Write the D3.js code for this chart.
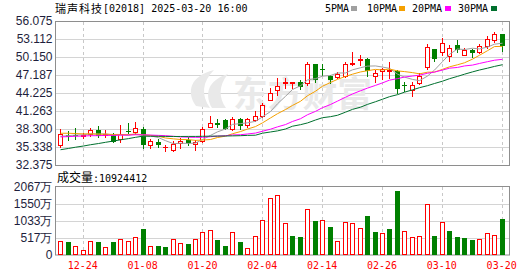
<!DOCTYPE html>
<html><head><meta charset="utf-8">
<script src="https://cdn.jsdelivr.net/npm/d3@7"></script>
<style>body{margin:0;background:#fff}svg{display:block}</style>
</head><body>
<script>
const dates = ["12-19","12-20","12-23","12-24","12-27","12-30","12-31","01-02","01-03","01-06","01-07","01-08","01-09","01-10","01-13","01-14","01-15","01-16","01-17","01-20","01-21","01-22","01-23","01-24","01-27","01-28","02-03","02-04","02-05","02-06","02-07","02-10","02-11","02-12","02-13","02-14","02-17","02-18","02-19","02-20","02-21","02-24","02-25","02-26","02-27","02-28","03-03","03-04","03-05","03-06","03-07","03-10","03-11","03-12","03-13","03-14","03-17","03-18","03-19","03-20"];
const open  = [35.7,37.3,37.3,37.2,37.4,38.1,37.3,37.3,36.6,38.0,37.8,38.3,35.6,36.2,35.3,34.9,36.0,36.5,35.9,36.3,38.7,39.35,39.8,38.3,39.95,39.0,39.7,40.4,43.1,44.8,45.8,45.9,46.1,45.95,49.05,48.2,47.1,46.85,47.1,48.95,49.6,49.8,46.95,47.9,47.9,47.8,45.6,44.8,45.9,48.5,51.5,51.05,50.25,52.2,50.5,51.35,51.05,51.9,53.0,53.9];
const high  = [38.3,38.0,38.5,37.7,38.5,38.8,38.1,37.6,38.9,39.3,39.4,38.7,36.7,36.6,35.7,36.3,36.9,37.0,36.5,38.6,40.5,39.95,39.95,40.3,40.1,40.1,41.2,42.5,45.0,46.7,46.7,46.1,46.4,49.3,49.05,49.0,47.25,47.6,49.3,50.9,50.4,50.0,47.95,48.3,49.3,48.05,46.1,46.1,47.5,52.3,51.5,53.3,52.2,53.0,51.7,51.4,52.3,53.55,54.25,53.9];
const low   = [35.3,36.5,36.6,36.8,37.2,37.0,37.0,36.2,36.1,37.6,37.5,35.1,35.1,35.4,34.6,34.7,35.1,35.7,34.8,36.1,38.6,38.6,38.3,38.2,38.3,38.7,39.55,40.3,43.0,43.9,45.05,45.05,44.9,45.6,46.1,47.2,45.9,46.7,46.85,48.9,48.9,46.95,46.1,46.5,46.7,44.2,44.6,43.8,45.7,48.2,49.5,50.4,49.5,51.05,50.4,50.1,50.8,51.6,52.7,51.2];
const close = [37.5,37.2,37.25,37.35,38.2,37.3,37.4,36.3,37.4,37.9,38.4,35.9,36.3,35.9,35.4,35.9,36.3,36.1,36.2,38.35,39.3,39.2,38.5,39.95,39.0,39.95,40.4,42.2,44.3,45.4,46.1,46.0,45.3,49.05,46.5,48.1,46.6,47.35,49.05,49.1,49.8,47.95,47.5,48.1,48.05,45.05,45.5,45.6,47.1,51.8,50.0,52.45,51.6,51.5,51.35,51.05,51.9,53.1,53.9,52.15];
const volume = [424,383,272,141,414,383,242,383,474,414,545,787,272,272,242,474,353,333,474,686,747,454,272,686,383,202,575,1059,1745,1836,959,575,545,1392,1029,1079,847,424,989,959,817,1180,696,656,787,1937,716,545,575,1564,575,989,726,545,515,454,484,656,595,1092];
const ma5  = [37.1,37.2,37.3,37.35,37.5,37.46,37.5,37.31,37.32,37.26,37.48,37.18,37.18,36.88,36.38,35.88,35.96,35.92,35.98,36.57,37.25,37.83,38.31,39.06,39.19,39.32,39.56,40.3,41.17,42.45,43.68,44.8,45.42,46.37,46.59,46.99,47.11,47.52,47.52,48.04,48.38,48.65,48.68,48.49,48.28,47.33,46.84,46.46,46.26,47.01,48.0,49.39,50.59,51.47,51.38,51.59,51.48,51.78,52.26,52.42];
const ma10 = [37.6,37.6,37.55,37.5,37.5,37.45,37.45,37.4,37.4,37.38,37.47,37.34,37.25,37.1,36.82,36.68,36.57,36.55,36.43,36.48,36.57,36.9,37.12,37.52,37.88,38.29,38.7,39.31,40.12,40.82,41.5,42.18,42.86,43.77,44.52,45.34,45.96,46.47,46.95,47.32,47.69,47.89,48.11,48.01,48.17,47.86,47.75,47.58,47.38,47.65,47.67,48.12,48.53,48.87,49.2,49.8,50.44,51.19,51.87,51.9];
const ma20 = [37.0,37.05,37.1,37.15,37.2,37.2,37.25,37.25,37.3,37.3,37.35,37.35,37.3,37.25,37.2,37.1,37.0,36.95,36.93,36.93,37.03,37.13,37.19,37.32,37.36,37.48,37.63,37.93,38.27,38.65,39.03,39.54,39.99,40.65,41.2,41.81,42.33,42.89,43.53,44.07,44.59,45.03,45.48,45.89,46.34,46.59,46.85,47.02,47.16,47.48,47.67,48.0,48.31,48.43,48.68,48.82,49.09,49.38,49.62,49.77];
const ma30 = [34.89,35.10,35.30,35.50,35.71,35.91,36.11,36.32,36.52,36.72,36.93,37.13,37.10,37.10,37.08,37.07,37.07,37.08,37.08,37.10,37.12,37.13,37.15,37.17,37.20,37.25,37.28,37.61,37.81,37.99,38.30,38.76,39.01,39.30,39.78,40.16,40.33,40.56,41.07,41.53,41.89,42.35,42.79,43.20,43.62,43.95,44.36,44.74,45.10,45.43,45.79,46.17,46.58,46.96,47.32,47.70,48.01,48.31,48.60,48.88];
const priceTicks = [32.375,35.338,38.300,41.263,44.225,47.187,50.150,53.112,56.075];
const priceTickLabels = ["32.375","35.338","38.300","41.263","44.225","47.187","50.150","53.112","56.075"];
const volTicks = [0,517,1033,1550,2067];
const volTickLabels = ["0","517万","1033万","1550万","2067万"];
const xTickLabels = ["12-24","01-08","01-20","02-04","02-14","02-26","03-10","03-20"];
const titleName = "瑞声科技";
const titleRest = "[02018] 2025-03-20 16:00";
const volTitleName = "成交量";
const volTitleRest = ":10924412";
const legendNames = ["5PMA","10PMA","20PMA","30PMA"];
const watermarkText = "东方财富";

const W = 530, H = 276;
const C_UP = "#ff0000", C_DN = "#008000";
const maColors = ["#a0a0a0","#f5a000","#ff00ff","#00702e"];
const maSeries = [ma5, ma10, ma20, ma30];
const MONO = "'DejaVu Sans Mono', monospace";
const CJK = "'Noto Sans CJK SC', sans-serif";
const SANS = "'Liberation Sans', Arial, sans-serif";

const svg = d3.select("body").append("svg").attr("width", W).attr("height", H);

const L = 55, R = 509;
const x = d3.scaleBand().domain(dates).range([56.6, 505.4]).padding(0);
const cx = i => Math.round(x(dates[i]) + x.bandwidth() / 2);
const y = d3.scaleLinear().domain([32.375, 56.075]).range([165, 21]);
const yv = d3.scaleLinear().domain([0, 2067]).range([255, 187]);

// grids
const grid = svg.append("g");
priceTicks.slice(1, -1).forEach(t => {
  const yy = Math.round(y(t)) + 0.5;
  grid.append("line").attr("x1", L).attr("x2", R).attr("y1", yy).attr("y2", yy).attr("stroke", "#d4d4d4");
});
volTicks.slice(1, -1).forEach(t => {
  const yy = Math.round(yv(t)) + 0.5;
  grid.append("line").attr("x1", L).attr("x2", R).attr("y1", yy).attr("y2", yy).attr("stroke", "#d4d4d4");
});
xTickLabels.forEach(d => {
  const xx = Math.round(x(d) + x.bandwidth() / 2) + 0.5;
  [[22, 165], [187, 255]].forEach(([a, b]) => {
    grid.append("line").attr("x1", xx).attr("x2", xx).attr("y1", a).attr("y2", b)
      .attr("stroke", "#c8c8c8").attr("stroke-dasharray", "3,3");
  });
});

// watermark
const wm = svg.append("g").attr("fill", "#e9e9e9");
wm.append("path").attr("d", "M196,106 C186,92 190,76 214,70 C202,82 201,95 210,108 Z");
wm.append("path").attr("d", "M212,108 C204,94 208,80 228,74 C218,86 219,98 226,108 Z");
wm.append("text").attr("x", 233).attr("y", 107).attr("font-family", CJK).attr("font-weight", "bold")
  .attr("font-size", 35).attr("textLength", 139).attr("lengthAdjust", "spacingAndGlyphs").text(watermarkText);

// borders
svg.append("rect").attr("x", L + 0.5).attr("y", 21.5).attr("width", R - L).attr("height", 144)
  .attr("fill", "none").attr("stroke", "#8e8e8e");
svg.append("rect").attr("x", L + 0.5).attr("y", 186.5).attr("width", R - L).attr("height", 68.5)
  .attr("fill", "none").attr("stroke", "#8e8e8e");

// candles
const cg = svg.append("g");
dates.forEach((d, i) => {
  const up = close[i] >= open[i];
  const col = up ? C_UP : C_DN;
  const xc = cx(i);
  const yH = Math.round(y(high[i])), yL = Math.round(y(low[i]));
  const yT = Math.round(y(Math.max(open[i], close[i]))), yB = Math.round(y(Math.min(open[i], close[i])));
  cg.append("line").attr("x1", xc + 0.5).attr("x2", xc + 0.5).attr("y1", yH).attr("y2", yL + 1).attr("stroke", col);
  if (yB - yT < 1) {
    cg.append("line").attr("x1", xc - 2).attr("x2", xc + 3).attr("y1", yT + 0.5).attr("y2", yT + 0.5).attr("stroke", col);
  } else if (up) {
    cg.append("rect").attr("x", xc - 1.5).attr("y", yT + 0.5).attr("width", 4).attr("height", yB - yT)
      .attr("fill", "#fff").attr("stroke", col);
  } else {
    cg.append("rect").attr("x", xc - 2).attr("y", yT).attr("width", 5).attr("height", yB - yT + 1).attr("fill", col);
  }
});

// moving averages
const line = d3.line().x((d, i) => cx(i) + 0.5).y(d => y(d));
maSeries.forEach((s, k) => {
  svg.append("path").attr("d", line(s)).attr("fill", "none").attr("stroke", maColors[k]).attr("stroke-width", 1);
});

// volume bars (colour by close vs previous close)
const vg = svg.append("g");
dates.forEach((d, i) => {
  const up = i === 0 ? close[i] >= open[i] : close[i] >= close[i - 1];
  const xc = cx(i);
  const yt = Math.round(yv(volume[i]));
  if (up) {
    vg.append("rect").attr("x", xc - 1.5).attr("y", yt + 0.5).attr("width", 4).attr("height", 254 - yt)
      .attr("fill", "#fff").attr("stroke", C_UP);
  } else {
    vg.append("rect").attr("x", xc - 2).attr("y", yt).attr("width", 5).attr("height", 255 - yt).attr("fill", C_DN);
  }
});

// axes
const styleAxis = (g, fam, size, col) => {
  g.select(".domain").remove();
  g.selectAll(".tick line").remove();
  g.attr("font-family", fam).attr("font-size", size);
  g.selectAll("text").attr("fill", col);
};
svg.append("g").attr("transform", `translate(${L},0)`)
  .call(d3.axisLeft(y).tickValues(priceTicks).tickFormat((d, i) => priceTickLabels[i]).tickSize(0).tickPadding(2.5))
  .call(g => styleAxis(g, SANS, 12, "#1e1e3c"));
svg.append("g").attr("transform", `translate(${L},0)`)
  .call(d3.axisLeft(yv).tickValues(volTicks).tickFormat((d, i) => volTickLabels[i]).tickSize(0).tickPadding(2.5))
  .call(g => styleAxis(g, SANS, 12, "#1e1e3c"));
svg.append("g").attr("transform", `translate(0,255)`)
  .call(d3.axisBottom(x).tickValues(xTickLabels).tickSize(0).tickPadding(7))
  .call(g => styleAxis(g, MONO, 10, "#ff0000"));

// titles
const t1 = svg.append("text").attr("x", 55).attr("y", 13).attr("fill", "#000");
t1.append("tspan").attr("font-family", CJK).attr("font-size", 11).attr("letter-spacing", 1).text(titleName);
t1.append("tspan").attr("y", 12).attr("font-family", MONO).attr("font-size", 10).attr("letter-spacing", 0).text(titleRest);

const t2 = svg.append("text").attr("x", 57).attr("y", 181.5).attr("fill", "#000");
t2.append("tspan").attr("font-family", CJK).attr("font-size", 12).text(volTitleName);
t2.append("tspan").attr("font-family", MONO).attr("font-size", 10).text(volTitleRest);

// legend
const legX = [325, 367, 412, 458];
const sqX = [351, 399, 445, 491];
legendNames.forEach((n, k) => {
  svg.append("text").attr("x", legX[k]).attr("y", 12).attr("font-family", MONO).attr("font-size", 10)
    .attr("fill", "#000").text(n);
  svg.append("rect").attr("x", sqX[k]).attr("y", 6).attr("width", 6).attr("height", 5).attr("fill", maColors[k]);
});
</script>
</body></html>
